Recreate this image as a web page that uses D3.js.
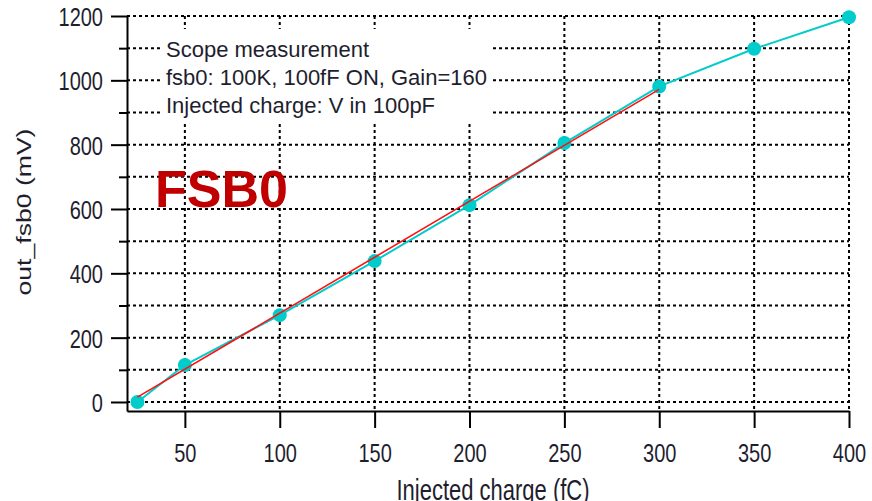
<html>
<head>
<meta charset="utf-8" />
<title>FSB0 linearity</title>
<script src="https://cdn.jsdelivr.net/npm/d3@7"></script>
<style>
  body { margin: 0; background: #fff; }
  text { font-family: "Liberation Sans", Arial, sans-serif; }
</style>
</head>
<body>
<script>

// measured points (scope)
var charge = [25, 50, 100, 150, 200, 250, 300, 350, 400];
var outFsb0 = [0, 115, 270, 438, 612, 805, 981, 1098, 1196];

// linear fit, only drawn over 25..300 fC
var fitCharge = [25, 300];
var fitOut = [15, 972];

var xTicks = [50, 100, 150, 200, 250, 300, 350, 400];
var yMajor = [0, 200, 400, 600, 800, 1000, 1200];
var yMinor = [100, 300, 500, 700, 900, 1100];

var notes = ["Scope measurement", "fsb0: 100K, 100fF ON, Gain=160", "Injected charge: V in 100pF"];

var W = 872, H = 501;
var stretch = 1.33; // labels look taller than normal Arial

var svg = d3.select("body").append("svg")
	.attr("width", W)
	.attr("height", H)
	.attr("xmlns", "http://www.w3.org/2000/svg");

var x = d3.scaleLinear().domain([19.5, 400]).range([127, 849]);
var y = d3.scaleLinear().domain([-28, 1200]).range([411, 16]);

var inkCol = "#1e1e2e";

// grid
var grid = svg.append("g")
	.attr("stroke", "#000")
	.attr("stroke-width", 2)
	.attr("stroke-dasharray", "3,3");

grid.selectAll(".gx").data(xTicks).enter().append("line")
	.attr("x1", d => x(d)).attr("x2", d => x(d))
	.attr("y1", y(1200)).attr("y2", y.range()[0]);

grid.selectAll(".gy").data(yMajor.concat(yMinor)).enter().append("line")
	.attr("x1", x.range()[0]).attr("x2", x(400))
	.attr("y1", d => y(d)).attr("y2", d => y(d));

// white box behind the note
svg.append("rect")
	.attr("x", 163).attr("y", 29)
	.attr("width", 327).attr("height", 92)
	.attr("fill", "#fff");

svg.selectAll(".note").data(notes).enter().append("text")
	.attr("x", 166)
	.attr("y", (d, i) => 57 + i * 28)
	.attr("font-size", "22px")
	.attr("fill", inkCol)
	.text(d => d);

// axes
var yAxis = svg.append("g")
	.attr("transform", "translate(" + x.range()[0] + ",0)")
	.call(d3.axisLeft(y).tickValues(yMajor).tickFormat(d3.format("d")).tickSize(16).tickSizeOuter(0).tickPadding(8));

svg.append("g")
	.attr("transform", "translate(" + x.range()[0] + ",0)")
	.call(d3.axisLeft(y).tickValues(yMinor).tickSize(8).tickFormat(""))
	.call(g => g.select(".domain").remove());

var xAxis = svg.append("g")
	.attr("transform", "translate(0," + y.range()[0] + ")")
	.call(d3.axisBottom(x).tickValues(xTicks).tickFormat(d3.format("d")).tickSize(17).tickSizeOuter(0));

svg.selectAll(".domain, .tick line").attr("stroke", "#000").attr("stroke-width", 2);

yAxis.selectAll(".tick text")
	.attr("font-family", null)
	.attr("font-size", "20px")
	.attr("fill", inkCol)
	.attr("x", 0).attr("y", 0).attr("dy", "0.36em")
	.attr("transform", "translate(-24,0) scale(1," + stretch + ")");

xAxis.selectAll(".tick text")
	.attr("font-family", null)
	.attr("font-size", "20px")
	.attr("fill", inkCol)
	.attr("y", 0).attr("dy", 0)
	.attr("transform", "translate(0,51) scale(1," + stretch + ")");

// axis titles (bottom one is clipped by the frame, as in the source)
svg.append("text")
	.attr("text-anchor", "middle")
	.attr("font-size", "22px")
	.attr("fill", inkCol)
	.attr("transform", "translate(493,500) scale(1," + stretch + ")")
	.text("Injected charge (fC)");

svg.append("text")
	.attr("text-anchor", "middle")
	.attr("font-size", "20px")
	.attr("fill", inkCol)
	.attr("transform", "translate(31,212) rotate(-90) scale(" + stretch + ",1)")
	.text("out_fsb0 (mV)");

// data
var pts = charge.map((c, i) => ({c: c, v: outFsb0[i]}));
var fit = fitCharge.map((c, i) => ({c: c, v: fitOut[i]}));

var line = d3.line().x(d => x(d.c)).y(d => y(d.v));

svg.append("path")
	.datum(pts)
	.attr("fill", "none")
	.attr("stroke", "#00cccc")
	.attr("stroke-width", 2)
	.attr("d", line);

svg.selectAll(".pt").data(pts).enter().append("circle")
	.attr("cx", d => x(d.c))
	.attr("cy", d => y(d.v))
	.attr("r", 7)
	.attr("fill", "#00cccc");

svg.append("path")
	.datum(fit)
	.attr("fill", "none")
	.attr("stroke", "#ff1010")
	.attr("stroke-width", 1.6)
	.attr("d", line);

// big label
svg.append("text")
	.attr("x", 155)
	.attr("y", 207)
	.attr("font-size", "52px")
	.attr("font-weight", "bold")
	.attr("fill", "#c00000")
	.text("FSB0");

</script>
</body>
</html>
